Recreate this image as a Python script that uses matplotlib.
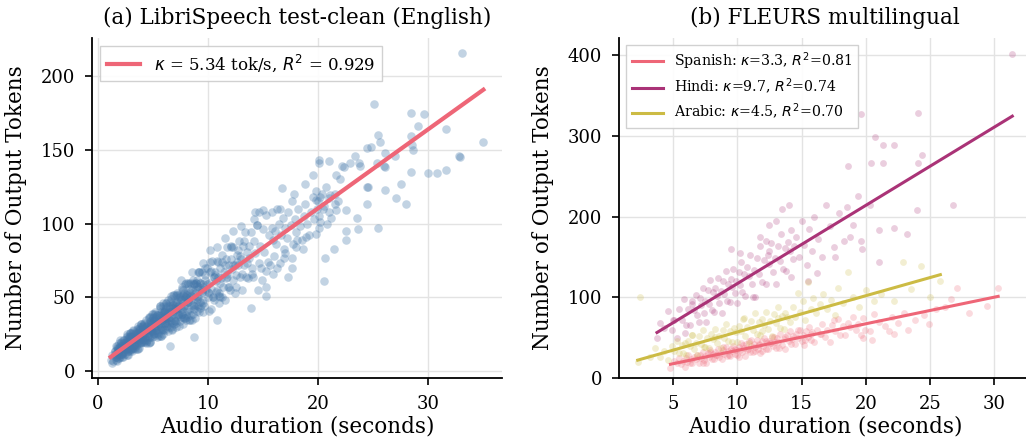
import matplotlib
matplotlib.use("Agg")
import matplotlib.pyplot as plt
import numpy as np

plt.rcParams["font.family"] = "DejaVu Serif"

BLUE = "#4477AA"
RED = "#EE6677"
PURPLE = "#AA3377"
YELLOW = "#CCBB44"

# LibriSpeech test-clean: duration (s) vs output tokens ------------------------

libri_dur = [
    # 1.1 - 2.4 s
    1.4, 1.5, 1.55, 1.6, 1.65, 1.7, 1.75, 1.8, 1.85, 1.9,
    1.95, 2.0, 2.0, 2.05, 2.1, 2.1, 2.15, 2.2, 2.2, 2.25,
    2.3, 2.3, 2.35, 2.4, 1.6, 1.8, 1.9, 2.05, 2.15, 2.35,
    # 2.4 - 3.4 s
    2.45, 2.5, 2.55, 2.6, 2.65, 2.7, 2.75, 2.8, 2.85, 2.9,
    2.95, 3.0, 3.05, 3.1, 3.15, 3.2, 3.25, 3.3, 3.35, 3.4,
    2.5, 2.6, 2.7, 2.8, 2.9, 3.0, 3.1, 3.2, 3.3, 2.55,
    2.65, 2.75, 2.85, 2.95, 3.05, 3.15, 3.25, 3.35, 2.45, 3.0,
    # 3.4 - 4.4 s
    3.45, 3.5, 3.55, 3.6, 3.65, 3.7, 3.75, 3.8, 3.85, 3.9,
    3.95, 4.0, 4.05, 4.1, 4.15, 4.2, 4.25, 4.3, 4.35, 4.4,
    3.5, 3.6, 3.7, 3.8, 3.9, 4.0, 4.1, 4.2, 4.3, 3.55,
    3.65, 3.75, 3.85, 3.95, 4.05, 4.15, 4.25, 4.35, 3.45, 4.0,
    # 4.4 - 5.4 s
    4.45, 4.5, 4.55, 4.6, 4.65, 4.7, 4.75, 4.8, 4.85, 4.9,
    4.95, 5.0, 5.05, 5.1, 5.15, 5.2, 5.25, 5.3, 5.35, 5.4,
    4.5, 4.6, 4.7, 4.8, 4.9, 5.0, 5.1, 5.2, 5.3, 4.55,
    4.65, 4.75, 4.85, 4.95, 5.05, 5.15,
    # 5.4 - 6.4 s
    5.45, 5.5, 5.55, 5.6, 5.65, 5.7, 5.75, 5.8, 5.85, 5.9,
    5.95, 6.0, 6.05, 6.1, 6.15, 6.2, 6.25, 6.3, 6.35, 6.4,
    5.5, 5.6, 5.7, 5.8, 5.9, 6.0, 6.1, 6.2, 6.3, 5.55,
    5.75, 5.95, 6.15, 6.35,
    # 6.4 - 7.4 s
    6.45, 6.5, 6.55, 6.6, 6.65, 6.7, 6.75, 6.8, 6.85, 6.9,
    6.95, 7.0, 7.05, 7.1, 7.15, 7.2, 7.25, 7.3, 7.35, 7.4,
    6.5, 6.6, 6.7, 6.8, 6.9, 7.0, 7.1, 7.2, 7.3, 6.55,
    # 7.4 - 8.4 s
    7.45, 7.5, 7.55, 7.6, 7.65, 7.7, 7.75, 7.8, 7.85, 7.9,
    7.95, 8.0, 8.05, 8.1, 8.15, 8.2, 8.25, 8.3, 8.35, 8.4,
    7.5, 7.6, 7.7, 7.8, 7.9, 8.0, 8.1, 8.2,
    # 8.4 - 9.6 s
    8.45, 8.5, 8.6, 8.65, 8.7, 8.8, 8.85, 8.9, 9.0, 9.05,
    9.1, 9.2, 9.25, 9.3, 9.4, 9.45, 9.5, 9.55, 8.55, 8.75,
    8.95, 9.15, 9.35, 9.5, 8.6, 9.0,
    # 9.6 - 11 s
    9.65, 9.7, 9.8, 9.9, 10.0, 10.05, 10.1, 10.2, 10.3, 10.35,
    10.4, 10.5, 10.55, 10.6, 10.7, 10.8, 10.85, 10.9, 11.0, 9.75,
    9.95, 10.15, 10.45, 10.65, 10.95,
    # 11 - 12.5 s
    11.05, 11.1, 11.2, 11.3, 11.35, 11.45, 11.5, 11.6, 11.7, 11.75,
    11.85, 11.9, 12.0, 12.1, 12.15, 12.25, 12.3, 12.4, 12.45, 11.25,
    11.65, 12.05,
    # 12.5 - 14 s
    12.55, 12.65, 12.75, 12.8, 12.9, 13.0, 13.1, 13.15, 13.25, 13.35,
    13.4, 13.5, 13.6, 13.7, 13.75, 13.85, 13.95, 12.6,
    # 14 - 16 s
    14.05, 14.2, 14.3, 14.45, 14.6, 14.7, 14.85, 15.0, 15.1, 15.25,
    15.4, 15.5, 15.65, 15.8, 15.9, 14.4,
    14.3, 14.6, 15.0, 15.8, 16.3, 16.5, 13.0, 14.2, 12.3, 11.5,
    10.8, 10.2, 9.5, 8.5, 7.5,
    # second pass over the dense 1.5 - 13.5 s range
    1.52, 1.62, 1.72, 1.82, 1.92, 2.02, 2.12, 2.22, 2.32, 2.42,
    2.52, 2.62, 2.72, 2.82, 2.92, 3.02, 3.12, 3.22, 3.32, 3.42,
    3.52, 3.62, 3.72, 3.82, 3.92, 4.02, 4.12, 4.22, 4.32, 4.42,
    4.52, 4.62, 4.72, 4.82, 4.92, 5.02, 5.12, 5.22, 5.32, 5.42,
    5.52, 5.62, 5.72, 5.82, 5.92, 6.02, 6.12, 6.22, 6.32, 6.42,
    6.52, 6.62, 6.72, 6.82, 6.92, 7.02, 7.12, 7.22, 7.32, 7.42,
    7.55, 7.65, 7.75, 7.85, 7.95, 8.05, 8.15, 8.25, 8.35, 8.45,
    8.6, 8.7, 8.8, 8.9, 9.0, 9.1, 9.2, 9.3, 9.4, 9.5,
    9.7, 9.9, 10.1, 10.3, 10.5, 10.7, 10.9, 11.1, 11.3, 11.5,
    11.7, 11.9, 12.1, 12.3, 12.5, 12.7, 12.9, 13.1, 13.3, 13.5,
    # third pass, 1.6 - 9.5 s
    1.6, 1.7, 1.8, 1.9, 2.0, 2.1, 2.2, 2.3, 2.4, 2.5,
    2.6, 2.7, 2.8, 2.9, 3.0, 3.1, 3.2, 3.3, 3.4, 3.5,
    3.6, 3.7, 3.8, 3.9, 4.0, 4.1, 4.2, 4.3, 4.4, 4.5,
    4.6, 4.7, 4.8, 4.9, 5.0, 5.1, 5.2, 5.3, 5.4, 5.5,
    5.6, 5.7, 5.8, 5.9, 6.0, 6.1, 6.2, 6.3, 6.4, 6.5,
    6.6, 6.7, 6.8, 6.9, 7.0, 7.1, 7.2, 7.3, 7.4, 7.5,
    7.6, 7.7, 7.8, 7.9, 8.0, 8.1, 8.2, 8.3, 8.4, 8.5,
    8.6, 8.7, 8.8, 8.9, 9.0, 9.1, 9.2, 9.3, 9.4, 9.5,
    # 14 - 21.5 s
    16.1, 16.2, 16.4, 16.6, 16.8, 16.9, 17.0, 17.2, 17.3, 17.5,
    17.7, 17.9, 18.0, 18.2, 18.3, 18.5, 18.7, 18.8, 19.0, 19.2,
    19.3, 19.5, 19.6, 19.8, 19.9, 20.0, 20.1, 20.3, 20.5, 20.7,
    20.8, 21.0, 21.2, 21.5, 16.0, 16.5, 17.0, 18.0, 15.3, 15.9,
    14.8, 14.0,
    # long tail
    33.1, 25.1, 28.4, 29.6, 29.1, 31.6, 25.4, 24.8, 24.4, 25.6,
    28.4, 28.5, 28.6, 35.0, 32.8, 32.85, 26.1, 27.0, 26.0, 26.1,
    25.3, 30.0, 30.8, 31.6, 28.4, 27.5, 26.1, 24.4, 24.5, 27.1,
    28.0, 24.4, 23.5, 23.6, 25.4, 22.5, 22.5, 21.4, 20.6, 20.5,
    20.1, 20.1, 21.0, 22.2, 22.3, 23.3, 23.7, 23.8, 22.9, 19.5,
    18.8, 16.7, 17.8, 17.6, 21.6, 22.0, 21.8, 21.1, 21.5, 20.2,
    19.8, 20.4, 21.0, 21.6, 22.5, 20.2, 20.1, 19.8, 18.9, 18.1,
    18.6, 16.9, 17.6, 17.6, 17.3, 16.3, 15.3, 15.3, 14.5, 13.9,
    10.8, 10.3, 8.7, 6.5, 11.0, 1.15, 1.3, 1.3,
]

libri_tok = [
    7, 14, 12, 17, 10, 13, 7, 16, 13, 19,
    11, 16, 10, 17, 15, 20, 13, 16, 10, 19,
    15, 21, 13, 18, 8, 15, 14, 19, 12, 17,
    12, 20, 17, 24, 15, 19, 11, 23, 18, 26,
    15, 22, 15, 23, 20, 27, 18, 22, 15, 26,
    16, 25, 14, 21, 14, 23, 20, 26, 18, 18,
    11, 22, 18, 26, 16, 22, 16, 25, 17, 26,
    17, 26, 23, 29, 20, 24, 16, 28, 23, 32,
    20, 27, 20, 29, 26, 33, 23, 28, 19, 31,
    21, 31, 19, 26, 19, 28, 25, 32, 23, 24,
    15, 28, 23, 32, 21, 28, 21, 30, 22, 31,
    21, 32, 28, 36, 25, 30, 20, 34, 28, 39,
    25, 33, 24, 35, 31, 39, 28, 33, 23, 38,
    26, 37, 23, 32, 23, 34, 31, 40, 28, 29,
    19, 34, 28, 39, 25, 34,
    25, 38, 33, 43, 29, 36, 24, 41, 33, 46,
    29, 39, 28, 41, 36, 46, 33, 39, 27, 44,
    32, 44, 28, 38, 28, 40, 36, 46, 33, 35,
    24, 41, 35, 48,
    30, 43, 39, 49, 34, 41, 28, 47, 38, 52,
    34, 44, 33, 47, 42, 52, 37, 44, 31, 50,
    37, 51, 33, 43, 32, 46, 42, 53, 38, 40,
    34, 49, 44, 56, 39, 47, 32, 53, 44, 59,
    38, 50, 37, 53, 47, 59, 42, 50, 35, 56,
    42, 57, 37, 49, 36, 52, 47, 60,
    38, 55, 50, 62, 44, 53, 36, 60, 50, 67,
    44, 57, 43, 60, 54, 67, 48, 57, 35, 59,
    49, 67, 45, 59, 39, 58,
    44, 62, 56, 70, 50, 60, 41, 67, 56, 75,
    50, 64, 48, 67, 61, 75, 55, 64, 46, 65,
    54, 74, 50, 65, 51,
    50, 70, 63, 79, 57, 67, 48, 76, 64, 84,
    57, 72, 55, 76, 69, 84, 62, 72, 53, 74,
    63, 85,
    57, 79, 72, 88, 64, 76, 55, 85, 72, 94,
    64, 81, 63, 85, 77, 94, 70, 74,
    64, 88, 80, 99, 73, 85, 62, 96, 81, 106,
    74, 92, 72, 97, 89, 99,
    108, 108, 109, 108, 110, 110, 98, 103, 95, 90,
    84, 82, 73, 67, 62,
    14, 10, 17, 12, 9, 17, 15, 12, 21, 17,
    15, 22, 20, 16, 24, 19, 14, 24, 21, 18,
    29, 24, 21, 29, 27, 22, 31, 25, 20, 31,
    28, 23, 37, 31, 27, 36, 34, 28, 38, 31,
    24, 38, 34, 29, 44, 37, 33, 43, 40, 33,
    47, 37, 29, 45, 41, 34, 52, 44, 39, 50,
    48, 39, 55, 44, 35, 52, 47, 40, 60, 51,
    45, 59, 55, 45, 62, 50, 40, 60, 54, 46,
    70, 59, 53, 68, 64, 54, 74, 60, 50, 72,
    66, 57, 84, 72, 65, 82, 78, 66, 88, 73,
    11, 16, 9, 16, 21, 12, 16, 10, 19, 15,
    23, 14, 18, 23, 15, 22, 28, 18, 22, 15,
    26, 21, 30, 20, 24, 30, 20, 29, 35, 24,
    29, 20, 33, 27, 37, 26, 30, 37, 26, 36,
    44, 30, 35, 25, 40, 33, 44, 31, 36, 44,
    30, 43, 52, 35, 42, 30, 47, 39, 52, 37,
    42, 52, 36, 50, 60, 41, 48, 35, 54, 45,
    60, 42, 49, 60, 41, 56, 67, 47, 55, 40,
    95, 86, 100, 92, 104, 83, 97, 90, 108, 99,
    86, 103, 94, 110, 98, 89, 105, 113, 100, 92,
    108, 118, 103, 122, 110, 115, 105, 120, 112, 125,
    100, 117, 104, 113, 78, 73, 80, 84, 68, 66,
    70, 66,
    215, 181, 175, 174, 166, 164, 160, 152, 151, 155,
    159, 153, 150, 155, 146, 145, 148, 146, 139, 138,
    141, 134, 134, 136, 135, 127, 123, 125, 125, 117,
    113, 113, 104, 96, 97, 95, 89, 83, 77, 61,
    143, 141, 142, 139, 138, 146, 141, 139, 141, 133,
    127, 124, 120, 115, 133, 130, 115, 119, 120, 118,
    116, 110, 108, 109, 109, 101, 97, 93, 91, 89,
    83, 77, 77, 70, 64, 70, 51, 57, 55, 43,
    35, 42, 23, 17, 53, 8, 6, 11,
]

libri_kappa = 5.34
libri_r2 = 0.929
libri_icpt = 3.6

# FLEURS: Spanish / Hindi / Arabic -----------------------------------------------

es_dur = [
    4.8, 5.1, 5.3, 5.5, 5.6, 5.8, 5.9, 6.0, 6.1, 6.2, 6.3, 6.4, 6.5, 6.6, 6.8, 6.9,
    7.0, 7.1, 7.2, 7.3, 7.4, 7.5, 7.6, 7.7, 7.8, 7.9,
    8.0, 8.1, 8.2, 8.3, 8.4, 8.5, 8.6, 8.7, 8.8, 8.9,
    9.0, 9.1, 9.2, 9.3, 9.4, 9.5, 9.6, 9.7, 9.8, 9.9,
    7.35, 7.85, 8.35, 8.85, 9.35, 9.85,
    10.0, 10.1, 10.2, 10.3, 10.4, 10.5, 10.6, 10.7, 10.8, 10.9,
    11.0, 11.1, 11.2, 11.3, 11.4, 11.5, 11.6, 11.7, 11.8, 11.9,
    12.0, 12.1, 12.2, 12.3, 12.4, 12.5, 12.6, 12.7, 12.8, 12.9,
    10.15, 10.45, 10.75, 11.05, 11.35, 11.65, 11.95, 12.25, 12.55, 12.85,
    13.0, 13.1, 13.2, 13.35, 13.5, 13.6, 13.7, 13.85, 14.0, 14.1,
    14.2, 14.35, 14.5, 14.6, 14.7, 14.85, 15.0, 15.1, 15.2, 15.35,
    15.5, 15.6, 15.7, 15.85, 13.25, 13.75, 14.25, 14.75, 15.25, 15.75,
    16.0, 16.2, 16.4, 16.6, 16.8, 17.0, 17.2, 17.4, 17.6, 17.8,
    18.0, 18.2, 18.4, 18.6, 18.8, 19.0, 19.2, 19.4, 19.6, 19.8,
    16.5, 17.5,
    20.3, 20.6, 21.0, 21.5, 21.8, 22.0, 22.5, 23.0, 23.3, 23.8,
    24.5, 24.9, 25.5, 26.2, 26.6, 27.1, 28.0, 29.4, 30.3, 19.9,
    19.8, 20.5, 22.2,
]
es_tok = [
    13, 21, 19, 25, 17, 21, 14, 25, 20, 28, 18, 24, 18, 26, 24, 29,
    19, 28, 25, 32, 22, 27, 19, 31, 26, 35,
    23, 30, 23, 32, 29, 36, 26, 31, 23, 35,
    30, 39, 27, 34, 27, 36, 33, 40, 30, 35,
    18, 32, 28, 38, 28, 36,
    28, 38, 35, 43, 32, 37, 27, 42, 36, 46,
    32, 40, 32, 42, 39, 47, 36, 41, 31, 46,
    40, 50, 36, 44, 36, 46, 43, 51, 40, 45,
    26, 41, 35, 47, 34, 42, 34, 46, 43, 51,
    37, 49, 45, 54, 41, 48, 36, 53, 46, 58,
    42, 52, 42, 54, 50, 59, 46, 53, 41, 58,
    51, 63, 47, 57, 37, 51, 48, 59, 47, 55,
    45, 60, 55, 67, 51, 59, 45, 66, 58, 73,
    53, 65, 53, 68, 63, 75, 59, 67, 53, 74,
    54, 72,
    58, 79, 70, 65, 58, 75, 68, 80, 60, 72,
    78, 67, 85, 88, 98, 112, 80, 89, 112, 59,
    49, 47, 55,
]

hi_dur = [
    3.75, 4.0, 4.3, 4.6, 4.9, 5.1, 5.3, 5.5, 5.7, 5.85,
    6.0, 6.15, 6.3, 6.45, 6.6, 6.75, 6.9, 5.0, 5.9, 6.5,
    7.0, 7.1, 7.2, 7.3, 7.4, 7.5, 7.6, 7.7, 7.8, 7.9,
    8.0, 8.1, 8.2, 8.3, 8.4, 8.5, 8.6, 8.7, 8.8, 8.9,
    9.0, 9.1, 9.2, 9.3, 9.4, 9.5, 9.6, 9.7, 9.8, 9.9,
    10.0, 10.1, 10.2, 10.3, 10.4, 10.5,
    10.6, 10.75, 10.9, 11.0, 11.15, 11.3, 11.4, 11.55, 11.7, 11.8,
    11.95, 12.1, 12.2, 12.35, 12.5, 12.6, 12.75, 12.9, 13.0, 13.15,
    13.3, 13.4, 13.55, 13.7, 13.8, 13.95, 14.1, 14.2, 14.35, 14.45,
    11.25, 12.45,
    14.6, 14.8, 15.0, 15.2, 15.4, 15.6, 15.8, 16.0, 16.3, 16.6,
    16.9, 17.2, 17.5, 17.6, 17.9, 18.3, 18.5, 18.8, 19.0, 19.4,
    19.6, 19.7, 19.6, 20.3, 20.4, 20.7, 21.0, 21.0, 21.3, 21.3,
    22.2, 22.2, 23.2, 24.0, 24.1, 24.1, 24.4, 26.8, 31.4, 18.6,
    12.5, 13.5, 14.0, 13.0, 11.8, 12.2, 9.5, 10.2, 14.2, 15.5,
    16.2,
]
hi_tok = [
    50, 68, 62, 83, 59, 72, 50, 85, 72, 98,
    66, 86, 66, 92, 84, 103, 78, 72, 56, 95,
    70, 99, 90, 112, 81, 96, 69, 109, 92, 121,
    84, 106, 82, 111, 102, 124, 93, 108, 81, 120,
    104, 133, 95, 117, 94, 123, 113, 135, 105, 120,
    93, 132, 115, 144, 107, 129,
    102, 137, 126, 152, 116, 134, 101, 149, 129, 164,
    119, 146, 117, 152, 141, 167, 131, 149, 117, 164,
    145, 179, 135, 161, 133, 168, 157, 183, 147, 164,
    100, 158,
    175, 150, 195, 165, 140, 185, 158, 200, 172, 150,
    215, 188, 162, 150, 205, 170, 212, 175, 190, 225,
    170, 160, 327, 214, 266, 299, 184, 144, 266, 289,
    289, 186, 178, 208, 266, 329, 277, 214, 402, 263,
    190, 210, 215, 195, 175, 170, 160, 155, 125, 120,
    130,
]

ar_dur = [
    2.25, 2.4, 3.2, 3.6, 4.0, 4.3, 4.6, 4.9, 5.1, 5.3, 5.5, 5.7, 5.8, 5.95,
    6.0, 6.15, 6.3, 6.45, 6.6, 6.75, 6.9, 7.05, 7.2, 7.35,
    7.5, 7.65, 7.8, 7.95, 8.1, 8.25, 8.4, 8.55, 8.7, 8.85,
    9.0, 9.15, 9.3, 9.45, 9.6, 9.75, 9.9, 6.5, 7.4, 8.3,
    10.0, 10.15, 10.3, 10.45, 10.6, 10.75, 10.9, 11.05, 11.2, 11.35,
    11.5, 11.65, 11.8, 11.95, 12.1, 12.25, 12.4, 12.55, 12.7, 12.85,
    13.0, 13.15, 13.3, 13.45, 13.6, 13.75, 13.9, 10.5, 11.9, 13.2,
    14.1, 14.3, 14.5, 14.7, 14.9, 15.1, 15.3, 15.5, 15.7, 15.9,
    16.1, 16.4, 16.7, 17.0, 17.3, 17.6, 17.8, 18.2, 18.6, 19.0,
    19.5, 20.0, 20.6, 21.2, 22.2, 22.9, 23.5, 24.3, 25.0, 25.8,
]
ar_tok = [
    20, 100, 26, 37, 26, 33, 22, 40, 34, 46, 31, 41, 31, 43,
    29, 46, 40, 53, 36, 44, 29, 52, 42, 59,
    38, 50, 37, 54, 48, 61, 44, 52, 37, 60,
    50, 67, 46, 58, 45, 62, 57, 53, 39, 51,
    45, 65, 58, 73, 52, 63, 44, 71, 60, 80,
    54, 69, 53, 73, 66, 82, 61, 71, 52, 79,
    68, 88, 62, 77, 61, 81, 75, 74, 58, 74,
    70, 88, 76, 105, 82, 95, 72, 119, 86, 99,
    80, 92, 104, 85, 97, 78, 112, 93, 132, 100,
    88, 109, 95, 104, 96, 144, 110, 139, 100, 120,
]

languages = ["Spanish", "Hindi", "Arabic"]
lang_kappa = [3.3, 9.7, 4.5]
lang_r2 = [0.81, 0.74, 0.70]
lang_icpt = [1.2, 20.0, 12.0]


def style_axes(ax):
    ax.grid(True, color="#e3e3e3", linewidth=1.0)
    ax.set_axisbelow(True)
    for side in ("top", "right"):
        ax.spines[side].set_visible(False)
    for side in ("left", "bottom"):
        ax.spines[side].set_linewidth(1.3)
    ax.tick_params(direction="out", length=5, width=1.2, pad=7, labelsize=13)


def fit_line(ax, dur, kappa, icpt, color, lw, label):
    xs = np.array([min(dur), max(dur)])
    ax.plot(xs, kappa * xs + icpt, color=color, lw=lw, label=label, zorder=3)


fig = plt.figure(figsize=(10.26, 4.42), dpi=100)
ax_a = fig.add_axes([0.0897, 0.1448, 0.3996, 0.7692])
ax_b = fig.add_axes([0.6033, 0.1448, 0.4016, 0.7692])

# (a) LibriSpeech
style_axes(ax_a)
ax_a.scatter(libri_dur, libri_tok, s=38, color=BLUE, alpha=0.32, linewidths=0)
fit_line(ax_a, libri_dur, libri_kappa, libri_icpt, RED, 3.0,
         rf"$\kappa$ = {libri_kappa:.2f} tok/s, $R^2$ = {libri_r2:.3f}")
ax_a.set_yticks([0, 50, 100, 150, 200])
ax_a.set_xticks([0, 10, 20, 30])
ax_a.set_title("(a) LibriSpeech test-clean (English)", fontsize=15.5, pad=10)
ax_a.set_xlabel("Audio duration (seconds)", fontsize=15.5, labelpad=2)
ax_a.set_ylabel("Number of Output Tokens", fontsize=15.5, labelpad=10)
ax_a.legend(loc="upper left", fontsize=12, fancybox=False, edgecolor="#cccccc",
            framealpha=0.9, handlelength=2.0)

# (b) FLEURS
style_axes(ax_b)
lang_data = [(es_dur, es_tok, RED), (hi_dur, hi_tok, PURPLE), (ar_dur, ar_tok, YELLOW)]
for (dur, tok, color), name, k, r2, b in zip(lang_data, languages, lang_kappa, lang_r2, lang_icpt):
    ax_b.scatter(dur, tok, s=24, color=color, alpha=0.24, linewidths=0)
    fit_line(ax_b, dur, k, b, color, 2.2, rf"{name}: $\kappa$={k}, $R^2$={r2:.2f}")
ax_b.set_ylim(bottom=0)
ax_b.set_xticks([5, 10, 15, 20, 25, 30])
ax_b.set_yticks([0, 100, 200, 300, 400])
ax_b.set_title("(b) FLEURS multilingual", fontsize=15.5, pad=10)
ax_b.set_xlabel("Audio duration (seconds)", fontsize=15.5, labelpad=2)
ax_b.set_ylabel("Number of Output Tokens", fontsize=15.5, labelpad=10)
ax_b.legend(loc="upper left", fontsize=10.2, fancybox=False, edgecolor="#cccccc",
            framealpha=0.9, handlelength=2.2, labelspacing=0.35)

fig.savefig("out.png", dpi=100)
